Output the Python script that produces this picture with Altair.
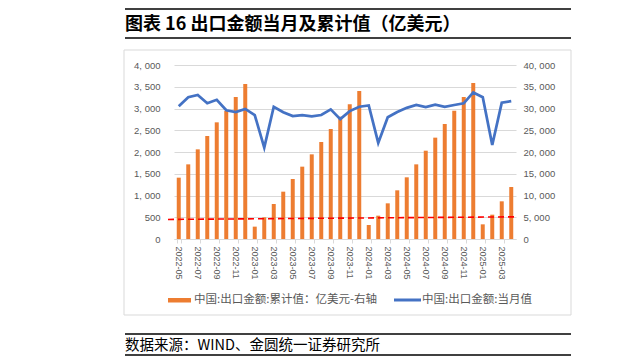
import altair as alt
import pandas as pd

months = [
    "2022-05", "2022-06", "2022-07", "2022-08", "2022-09", "2022-10", "2022-11", "2022-12",
    "2023-01", "2023-02", "2023-03", "2023-04", "2023-05", "2023-06", "2023-07", "2023-08",
    "2023-09", "2023-10", "2023-11", "2023-12",
    "2024-01", "2024-02", "2024-03", "2024-04", "2024-05", "2024-06", "2024-07", "2024-08",
    "2024-09", "2024-10", "2024-11", "2024-12",
    "2025-01", "2025-02", "2025-03", "2025-04",
]
# 当月值（亿美元，左轴）
monthly = [
    3050, 3260, 3310, 3120, 3200, 2960, 2920, 2990,
    2850, 2100, 3040, 2915, 2825, 2845, 2820, 2850,
    2980, 2755, 2940, 3040,
    3070, 2210, 2800, 2920, 3015, 3080, 3030, 3090,
    3040, 3080, 3120, 3370,
    3260, 2160, 3135, 3170,
]
# 累计值（亿美元，右轴）
cumulative = [
    14100, 17160, 20610, 23680, 26820, 29430, 32640, 35630,
    2840, 4980, 8050, 10880, 13790, 16630, 19460, 22300,
    25290, 28120, 30960, 34020,
    3220, 5360, 8200, 11190, 14180, 17160, 20300, 23300,
    26440, 29500, 32640, 35860,
    3370, 5590, 8660, 11950,
]
# 红色虚线（右轴单位）起止值
ref_start = [4500]
ref_end = [5100]

title_text = "图表 16 出口金额当月及累计值（亿美元）"
source_text = "数据来源：WIND、金圆统一证券研究所"
legend_bar = "中国:出口金额:累计值：亿美元-右轴"
legend_line = "中国:出口金额:当月值"

W, H = 342, 174
GRAY = "#595959"
CJK = "Noto Sans CJK SC"
NUM = "Liberation Sans"

df = pd.DataFrame({"month": months, "cum": cumulative, "mon": monthly})
ref_df = pd.DataFrame({"a": ref_start, "b": ref_end})
one = pd.DataFrame({"k": [0]})

label_expr = "replace(format(datum.value, ','), ',', ', ')"

x_enc = alt.X(
    "month:O",
    sort=months,
    scale=alt.Scale(paddingInner=0.58, paddingOuter=0.29),
    axis=alt.Axis(
        title=None, values=months[::2], labelAngle=90, tickBand="extent",
        labelFontSize=9, labelFont=NUM, labelColor=GRAY, domainColor="#d9d9d9",
        tickColor="#d9d9d9", tickSize=4, labelPadding=3, grid=False,
    ),
)

bars = alt.Chart(df).mark_bar(color="#ED7D31").encode(
    x=x_enc,
    y=alt.Y(
        "cum:Q",
        scale=alt.Scale(domain=[0, 40000], nice=False),
        axis=alt.Axis(
            orient="right", values=list(range(0, 40001, 5000)), title=None,
            grid=False, domain=False, ticks=False, labelExpr=label_expr,
            labelPadding=7, labelFontSize=9.5, labelFont=NUM, labelColor=GRAY,
        ),
    ),
)

line = alt.Chart(df).mark_line(color="#4472C4", strokeWidth=2.75).encode(
    x=x_enc,
    y=alt.Y(
        "mon:Q",
        scale=alt.Scale(domain=[0, 4000], nice=False),
        axis=alt.Axis(
            orient="left", values=list(range(0, 4001, 500)), title=None,
            grid=True, gridColor="#d9d9d9", domain=False, ticks=False,
            labelExpr=label_expr, labelPadding=14, labelFontSize=9.5,
            labelFont=NUM, labelColor=GRAY,
        ),
    ),
)

ref = alt.Chart(ref_df).mark_rule(color="#FF0000", strokeWidth=1.6, strokeDash=[6, 4]).encode(
    x=alt.value(-6), x2=alt.value(343),
    y=alt.Y("a:Q", scale=alt.Scale(domain=[0, 40000], nice=False), axis=None),
    y2="b:Q",
)

def hrule(y, x0=-49, x1=397, w=1.3):
    return alt.Chart(one).mark_rule(color="black", strokeWidth=w).encode(
        x=alt.value(x0), x2=alt.value(x1), y=alt.value(y)
    )

box = alt.Chart(one).mark_rect(fillOpacity=0, stroke="#d9d9d9", strokeWidth=1).encode(
    x=alt.value(-50), x2=alt.value(397), y=alt.value(-15), y2=alt.value(250)
)

title = alt.Chart(one).mark_text(
    align="left", baseline="middle", fontSize=18, fontWeight="bold", font=CJK, color="black"
).encode(x=alt.value(-49), y=alt.value(-40), text=alt.value(title_text))

source = alt.Chart(one).mark_text(
    align="left", baseline="middle", fontSize=14.5, font=CJK, color="black"
).encode(x=alt.value(-49), y=alt.value(281), text=alt.value(source_text))

leg_bar_sw = alt.Chart(one).mark_rect(color="#ED7D31").encode(
    x=alt.value(-6), x2=alt.value(17), y=alt.value(233), y2=alt.value(237.5)
)
leg_bar_tx = alt.Chart(one).mark_text(
    align="left", baseline="middle", fontSize=11.5, font=CJK, color=GRAY
).encode(x=alt.value(20), y=alt.value(235), text=alt.value(legend_bar))
leg_line_sw = alt.Chart(one).mark_rule(color="#4472C4", strokeWidth=3).encode(
    x=alt.value(220), x2=alt.value(247), y=alt.value(235)
)
leg_line_tx = alt.Chart(one).mark_text(
    align="left", baseline="middle", fontSize=11.5, font=CJK, color=GRAY
).encode(x=alt.value(248), y=alt.value(235), text=alt.value(legend_line))

chart = alt.layer(
    box, bars, line, ref,
    title, hrule(-56), hrule(-27),
    source, hrule(269), hrule(290),
    leg_bar_sw, leg_bar_tx, leg_line_sw, leg_line_tx,
).resolve_scale(y="independent").properties(
    width=W, height=H,
    padding={"left": 166, "top": 57, "right": 97, "bottom": 117},
    autosize=alt.AutoSizeParams(type="none"),
).configure_view(stroke=None)

chart.save("out.html", embed_options={"renderer": "svg", "actions": False})
